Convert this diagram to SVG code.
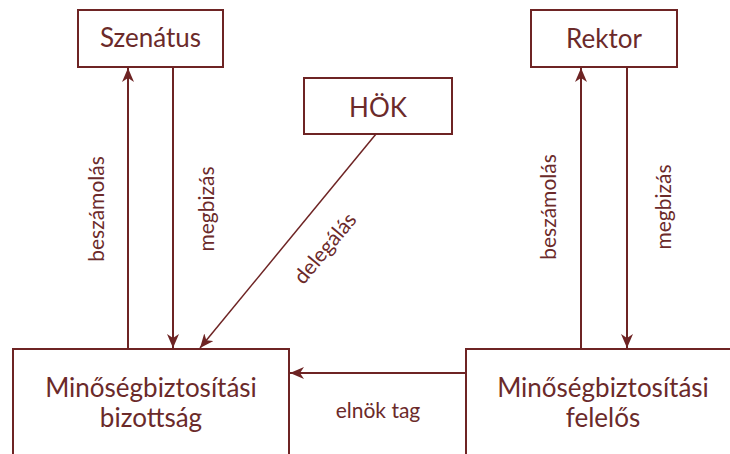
<svg xmlns="http://www.w3.org/2000/svg" width="730" height="454" viewBox="0 0 730 454">
<style>
.box{fill:#fff;stroke:#6e2424;stroke-width:2}
.line{fill:none;stroke:#6e2424;stroke-width:2}
.thin{fill:none;stroke:#6e2424;stroke-width:1.5}
.node{font-family:Lato,"Liberation Sans",sans-serif;font-size:26px;fill:#6b2a2a;text-anchor:middle}
.lbl{font-family:Lato,"Liberation Sans",sans-serif;font-size:21px;fill:#6b2a2a;text-anchor:middle}
</style>
<defs>
<marker id="ah" markerUnits="userSpaceOnUse" markerWidth="16" markerHeight="12" refX="14" refY="6" orient="auto">
<path d="M0,0 L14,6 L0,12 L4,6 Z" fill="#6e2424"/>
</marker>
</defs>
<rect width="730" height="454" fill="#fff"/>
<g id="szenatus"><rect class="box" x="78" y="10" width="145" height="57"/><text class="node" x="150.5" y="47">Szenátus</text></g>
<g id="rektor"><rect class="box" x="531" y="10" width="146" height="57"/><text class="node" x="604" y="48">Rektor</text></g>
<g id="hok"><rect class="box" x="304" y="78" width="148" height="56"/><text class="node" x="378" y="117">HÖK</text></g>
<g id="bizottsag"><rect class="box" x="13" y="349" width="276" height="130"/><text class="node" x="151" y="397">Minőségbiztosítási</text><text class="node" x="151" y="427">bizottság</text></g>
<g id="felelos"><rect class="box" x="466" y="349" width="280" height="130"/><text class="node" x="603" y="397">Minőségbiztosítási</text><text class="node" x="603" y="427">felelős</text></g>
<g id="connectors">
<line class="line" x1="128" y1="348" x2="128" y2="68" marker-end="url(#ah)"/>
<line class="line" x1="173" y1="68" x2="173" y2="348" marker-end="url(#ah)"/>
<line class="thin" x1="376" y1="134" x2="200" y2="348" marker-end="url(#ah)"/>
<line class="line" x1="581" y1="348" x2="581" y2="68" marker-end="url(#ah)"/>
<line class="line" x1="627" y1="68" x2="627" y2="348" marker-end="url(#ah)"/>
<line class="line" x1="465" y1="373" x2="290" y2="373" marker-end="url(#ah)"/>
<text class="lbl" transform="translate(104,209) rotate(-90)">beszámolás</text>
<text class="lbl" transform="translate(214,209) rotate(-90)">megbizás</text>
<text class="lbl" transform="translate(556,207) rotate(-90)">beszámolás</text>
<text class="lbl" transform="translate(671,207) rotate(-90)">megbizás</text>
<text class="lbl" transform="translate(326,249) rotate(-50.4)" y="6">delegálás</text>
<text class="lbl" x="378" y="418">elnök tag</text>
</g>
</svg>
